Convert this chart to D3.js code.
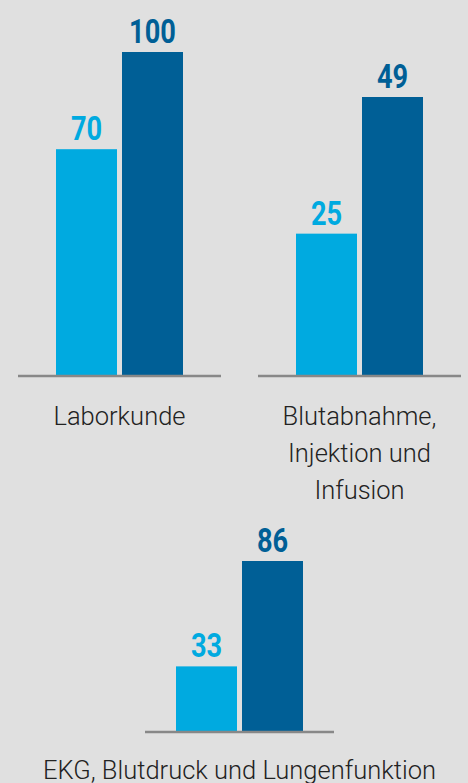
<!DOCTYPE html>
<html>
<head>
<meta charset="utf-8">
<script src="https://cdn.jsdelivr.net/npm/d3@7"></script>
<style>
  html, body { margin: 0; padding: 0; background: #e0e0e0; }
  svg { display: block; }
</style>
</head>
<body>
<svg id="chart" width="468" height="783"></svg>
<script>
// Category labels (one entry per line of text)
const categories = [
  ["Laborkunde"],
  ["Blutabnahme,", "Injektion und", "Infusion"],
  ["EKG, Blutdruck und Lungenfunktion"]
];
// Two series per category
const seriesLight = [70, 25, 33];
const seriesDark = [100, 49, 86];

const colors = { light: "#00aae0", dark: "#005f96", axis: "#888888", text: "#222222" };

// Small-multiple layout: centre, baseline, axis half-width, plot height
const panels = [
  { cx: 119.5, base: 376, half: 101.5, plotH: 324, labelY: 425 },
  { cx: 359.5, base: 376, half: 101.5, plotH: 279, labelY: 425 },
  { cx: 239.5, base: 732, half: 94.5, plotH: 171, labelY: 779 }
];

const svg = d3.select("#chart");
svg.append("rect").attr("width", 468).attr("height", 783).attr("fill", "#e0e0e0");

categories.forEach((cat, i) => {
  const p = panels[i];
  const vals = [
    { key: "light", v: seriesLight[i] },
    { key: "dark", v: seriesDark[i] }
  ];
  const x = d3.scaleBand()
    .domain(["light", "dark"])
    .range([p.cx - 63.5, p.cx + 63.5])
    .paddingInner(5 / 66)
    .paddingOuter(0);
  const y = d3.scaleLinear()
    .domain([0, d3.max(vals, d => d.v)])
    .range([p.base, p.base - p.plotH]);

  const g = svg.append("g");

  g.selectAll("rect.bar").data(vals).join("rect")
    .attr("class", "bar")
    .attr("x", d => x(d.key))
    .attr("width", x.bandwidth())
    .attr("y", d => y(d.v))
    .attr("height", d => y(0) - y(d.v) + 1)
    .attr("fill", d => colors[d.key]);

  // Value labels above bars (condensed bold)
  g.selectAll("text.val").data(vals).join("text")
    .attr("class", "val")
    .attr("transform", d => `translate(${x(d.key) + x.bandwidth() / 2},${y(d.v) - 9}) scale(0.8,1)`)
    .attr("text-anchor", "middle")
    .attr("font-family", "Roboto, 'Open Sans', sans-serif")
    .attr("font-weight", 700)
    .attr("font-size", 34)
    .attr("fill", d => colors[d.key])
    .text(d => d.v);

  // Baseline
  g.append("line")
    .attr("x1", p.cx - p.half).attr("x2", p.cx + p.half)
    .attr("y1", p.base).attr("y2", p.base)
    .attr("stroke", colors.axis)
    .attr("stroke-width", 2.5);

  // Category label
  g.selectAll("text.cat").data(cat).join("text")
    .attr("class", "cat")
    .attr("x", p.cx)
    .attr("y", (d, j) => p.labelY + j * 37)
    .attr("text-anchor", "middle")
    .attr("font-family", "Roboto, 'Open Sans', sans-serif")
    .attr("font-weight", 300)
    .attr("font-size", 25.5)
    .attr("fill", colors.text)
    .text(d => d);
});
</script>
</body>
</html>
